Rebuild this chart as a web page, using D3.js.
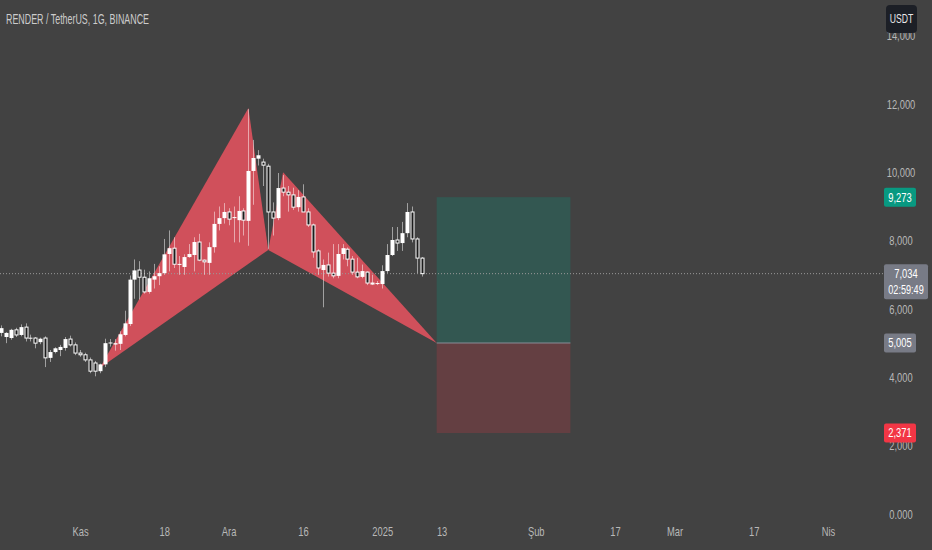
<!DOCTYPE html>
<html>
<head>
<meta charset="utf-8">
<script src="https://cdn.jsdelivr.net/npm/d3@7"></script>
<style>
  html, body { margin: 0; padding: 0; background: #424242; }
  svg text { font-family: "Liberation Sans", Arial, sans-serif; }
</style>
</head>
<body>
<div id="chart"></div>
<script>
// canvas size
var svgWidth = 932;
var svgHeight = 550;

// daily candles, first one is 16 Oct 2024
var firstDay = new Date(2024, 9, 16);
var opens  = [5.30,5.18,5.15,5.39,5.24,5.47,5.15,5.15,5.03,5.15,4.57,4.74,4.80,4.86,5.12,4.95,4.71,4.66,4.51,4.42,4.18,4.38,5.00,4.96,4.98,5.24,5.56,6.86,7.14,6.93,6.50,6.86,6.96,7.05,7.61,7.78,7.31,7.23,7.52,7.58,7.96,7.43,7.35,7.81,8.49,8.66,8.84,8.66,8.60,8.87,8.58,10.04,10.40,10.30,10.18,8.84,8.66,9.54,9.42,9.34,8.98,9.28,8.84,8.46,7.70,7.14,7.29,7.05,6.97,7.61,7.75,7.46,7.08,6.94,7.08,6.76,6.73,6.73,7.11,7.58,8.02,7.93,8.22,8.84,8.05,7.49];
var highs  = [5.52,5.32,5.42,5.45,5.55,5.58,5.25,5.18,5.16,5.20,4.80,4.88,4.95,5.18,5.22,5.02,4.80,4.72,4.58,4.48,4.40,5.13,5.12,5.12,5.35,5.95,6.98,7.45,7.40,7.15,7.10,7.32,7.25,8.05,8.30,8.10,7.55,7.60,7.90,8.10,8.20,7.45,7.95,8.85,9.00,9.10,8.95,9.00,9.30,8.95,11.85,10.95,10.65,10.40,10.25,9.12,9.98,9.92,9.60,9.55,9.48,9.65,8.95,8.50,7.75,7.45,7.65,7.90,7.90,7.90,7.80,7.55,7.50,7.30,7.10,7.00,6.82,7.28,7.90,8.40,8.40,8.55,9.10,9.00,8.10,7.52];
var lows   = [5.20,5.00,5.10,5.18,5.20,5.05,5.05,4.85,4.97,4.30,4.45,4.70,4.62,4.78,4.90,4.65,4.60,4.45,4.12,4.03,4.12,4.30,4.90,4.78,4.80,5.20,5.50,6.30,6.28,6.45,6.45,6.60,6.70,7.00,7.10,7.20,7.00,7.00,7.50,7.10,7.40,7.00,7.00,7.65,8.30,8.50,8.45,7.95,7.95,8.15,7.85,9.05,10.20,9.60,7.76,8.15,8.60,9.30,8.85,8.90,8.85,8.85,8.40,7.50,7.00,6.05,6.95,6.90,6.90,7.45,7.25,7.00,6.90,6.90,6.70,6.70,6.70,6.60,7.05,7.55,7.70,7.70,8.10,7.95,7.05,6.95];
var closes = [5.44,5.30,5.39,5.24,5.47,5.15,5.16,5.00,5.13,4.57,4.74,4.85,4.89,5.12,4.95,4.71,4.66,4.51,4.18,4.18,4.38,5.00,5.02,5.00,5.26,5.58,6.86,7.13,6.93,6.50,6.90,6.96,7.05,7.60,7.78,7.31,7.32,7.52,7.61,7.96,7.43,7.38,7.81,8.49,8.66,8.84,8.63,8.69,8.87,8.60,10.04,10.42,10.50,10.21,8.84,8.66,9.54,9.42,9.34,8.98,9.28,8.84,8.46,7.67,7.20,7.29,7.05,6.97,7.61,7.78,7.46,7.08,6.94,7.11,6.76,6.73,6.76,7.11,7.58,8.02,7.93,8.22,8.84,8.05,7.49,7.034];

// harmonic pattern X, A, B, C, D
var patternDates  = [new Date(2024, 10, 5), new Date(2024, 11, 5), new Date(2024, 11, 9), new Date(2024, 11, 12), new Date(2025, 0, 12)];
var patternPrices = [4.27, 11.88, 7.73, 10.00, 5.005];

// long position tool
var posDates = [new Date(2025, 0, 12), new Date(2025, 1, 8)];
var targetPrice = 9.273;
var entryPrice = 5.005;
var stopPrice = 2.371;
var lastPrice = 7.034;
var countdown = "02:59:49";

// axis ticks
var timeTicks = [new Date(2024, 10, 1), new Date(2024, 10, 18), new Date(2024, 11, 1), new Date(2024, 11, 16), new Date(2025, 0, 1), new Date(2025, 0, 13), new Date(2025, 1, 1), new Date(2025, 1, 17), new Date(2025, 2, 1), new Date(2025, 2, 17), new Date(2025, 3, 1)];
var timeLabels = ["Kas", "18", "Ara", "16", "2025", "13", "Şub", "17", "Mar", "17", "Nis"];
var priceTicks = [0, 2, 4, 6, 8, 10, 12, 14];
var priceLabels = ["0.000", "2,000", "4,000", "6,000", "8,000", "10,000", "12,000", "14,000"];

var paneRight = 884;
var narrow = 0.72; // the reference font is a condensed one

var svg = d3.select("#chart")
  .append("svg")
  .attr("width", svgWidth)
  .attr("height", svgHeight);

svg.append("rect")
  .attr("width", svgWidth)
  .attr("height", svgHeight)
  .attr("fill", "#424242");

// squeeze text horizontally
function squeeze(sel, factor) {
  sel.each(function() {
    var w = this.getComputedTextLength();
    d3.select(this)
      .attr("textLength", w * factor)
      .attr("lengthAdjust", "spacingAndGlyphs");
  });
}

// scales
var x = d3.scaleTime()
  .domain([new Date(2024, 10, 1), new Date(2025, 3, 1)])
  .range([80, 828]);

var y = d3.scaleLinear()
  .domain([0, 12])
  .range([514, 104]);

var candles = closes.map(function(c, i) {
  return { date: d3.timeDay.offset(firstDay, i), o: opens[i], h: highs[i], l: lows[i], c: c };
});

var fmt = function(v) { return d3.format(".3f")(v).replace(".", ","); };

// long position boxes
var posGroup = svg.append("g");
posGroup.append("rect")
  .attr("x", x(posDates[0]))
  .attr("y", y(targetPrice))
  .attr("width", x(posDates[1]) - x(posDates[0]))
  .attr("height", y(entryPrice) - y(targetPrice))
  .attr("fill", "rgba(8,153,129,0.25)");
posGroup.append("rect")
  .attr("x", x(posDates[0]))
  .attr("y", y(entryPrice))
  .attr("width", x(posDates[1]) - x(posDates[0]))
  .attr("height", y(stopPrice) - y(entryPrice))
  .attr("fill", "rgba(242,54,69,0.2)");
posGroup.append("line")
  .attr("x1", x(posDates[0]))
  .attr("x2", x(posDates[1]))
  .attr("y1", y(entryPrice))
  .attr("y2", y(entryPrice))
  .attr("stroke", "#8a8d96")
  .attr("stroke-width", 1);

// pattern triangles XAB and BCD
var pts = patternDates.map(function(d, i) { return [x(d), y(patternPrices[i])]; });
var tri = d3.line();
svg.append("path")
  .attr("d", tri([pts[0], pts[1], pts[2]]) + "Z")
  .attr("fill", "#d0505b");
svg.append("path")
  .attr("d", tri([pts[2], pts[3], pts[4]]) + "Z")
  .attr("fill", "#d0505b");

// last price dotted line
svg.append("line")
  .attr("x1", 0)
  .attr("x2", paneRight)
  .attr("y1", y(lastPrice))
  .attr("y2", y(lastPrice))
  .attr("stroke", "#9a9a9a")
  .attr("stroke-width", 1)
  .attr("stroke-dasharray", "1,2");

// candles
var candleGroup = svg.append("g");
candleGroup.selectAll(".wick")
  .data(candles)
  .enter()
  .append("line")
  .attr("x1", d => Math.round(x(d.date)) + 0.5)
  .attr("x2", d => Math.round(x(d.date)) + 0.5)
  .attr("y1", d => y(d.h))
  .attr("y2", d => y(d.l))
  .attr("stroke", "rgba(255,255,255,0.5)")
  .attr("stroke-width", 1);

candleGroup.selectAll(".body")
  .data(candles)
  .enter()
  .append("rect")
  .attr("x", d => d.c >= d.o ? Math.round(x(d.date)) - 1.5 : Math.round(x(d.date)) - 1)
  .attr("y", d => y(Math.max(d.o, d.c)))
  .attr("width", d => d.c >= d.o ? 4 : 3)
  .attr("height", d => Math.max(1, Math.abs(y(d.o) - y(d.c))))
  .attr("fill", d => d.c >= d.o ? "#ffffff" : "#1c1c1c")
  .attr("stroke", d => d.c >= d.o ? "none" : "#ffffff")
  .attr("stroke-width", 1);

// title
var title = svg.append("text")
  .attr("x", 6)
  .attr("y", 24)
  .attr("fill", "#cccccc")
  .attr("font-size", "14px")
  .text("RENDER / TetherUS, 1G, BINANCE");
title.attr("textLength", 143).attr("lengthAdjust", "spacingAndGlyphs");

// time axis
var bottomAxis = d3.axisBottom(x)
  .tickValues(timeTicks)
  .tickSize(0)
  .tickFormat((d, i) => timeLabels[i]);

var xAxis = svg.append("g")
  .attr("transform", "translate(0, 524)")
  .call(bottomAxis);
xAxis.select(".domain").remove();
xAxis.selectAll("text")
  .attr("fill", "#b8b8b8")
  .attr("font-size", "13px")
  .call(squeeze, narrow);

// price axis
var rightAxis = d3.axisRight(y)
  .tickValues(priceTicks)
  .tickSize(0)
  .tickFormat((d, i) => priceLabels[i]);

var yAxis = svg.append("g")
  .attr("transform", "translate(901, 0)")
  .call(rightAxis);
yAxis.select(".domain").remove();
yAxis.selectAll("text")
  .attr("x", 0)
  .attr("text-anchor", "middle")
  .attr("fill", "#b8b8b8")
  .attr("font-size", "13px")
  .call(squeeze, narrow);

// price labels on the axis
function priceTag(price, color, lines) {
  var h = lines.length > 1 ? 35 : 19;
  var w = lines.length > 1 ? 44 : 32;
  var top = y(price) - 9.5;
  var g = svg.append("g");
  g.append("rect")
    .attr("x", paneRight)
    .attr("y", top)
    .attr("width", w)
    .attr("height", h)
    .attr("rx", 2)
    .attr("fill", color);
  lines.forEach(function(t, i) {
    var size = i > 0 ? 12 : 13;
    g.append("text")
      .attr("x", paneRight + w / 2)
      .attr("y", top + 14 + i * 16)
      .attr("text-anchor", "middle")
      .attr("fill", "#ffffff")
      .attr("font-size", size + "px")
      .text(t)
      .call(squeeze, i > 0 ? 0.76 : narrow);
  });
}
priceTag(targetPrice, "#089981", [fmt(targetPrice)]);
priceTag(lastPrice, "#787b86", [fmt(lastPrice), countdown]);
priceTag(entryPrice, "#787b86", [fmt(entryPrice)]);
priceTag(stopPrice, "#f23645", [fmt(stopPrice)]);

// currency button
svg.append("rect")
  .attr("x", 886)
  .attr("y", 5)
  .attr("width", 31)
  .attr("height", 28)
  .attr("rx", 4)
  .attr("fill", "#1c1f26");
svg.append("text")
  .attr("x", 901.5)
  .attr("y", 23)
  .attr("text-anchor", "middle")
  .attr("fill", "#e8e8e8")
  .attr("font-size", "12px")
  .text("USDT")
  .call(squeeze, narrow);
</script>
</body>
</html>
